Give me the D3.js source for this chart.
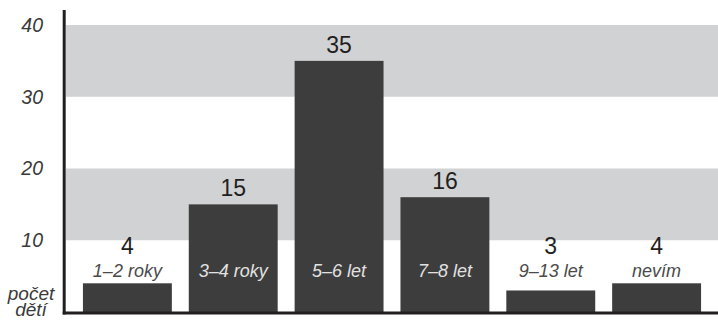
<!DOCTYPE html>
<html>
<head>
<meta charset="utf-8">
<script src="https://cdn.jsdelivr.net/npm/d3@7"></script>
<style>
  html, body { margin: 0; padding: 0; background: #fff; }
  svg { display: block; font-family: "Liberation Sans", Arial, Helvetica, sans-serif; }
</style>
</head>
<body>
<svg id="chart" width="718" height="320"></svg>
<script>
// Age groups and number of children in each
const categories = ["1–2 roky", "3–4 roky", "5–6 let", "7–8 let", "9–13 let", "nevím"];
const counts = [4, 15, 35, 16, 3, 4];
const yTicks = [10, 20, 30, 40];
const yAxisTitle = ["počet", "dětí"];

const W = 718, H = 320;
const svg = d3.select("#chart");

const x = d3.scaleBand()
  .domain(categories)
  .range([66, 718])
  .paddingInner(0.16)
  .paddingOuter(0.16);

const y = d3.scaleLinear()
  .domain([0, 40])
  .range([312, 25]);

// alternating grey bands: 10–20 and 30–40
const bands = [[10, 20], [30, 40]];
svg.append("g").selectAll("rect")
  .data(bands)
  .join("rect")
  .attr("x", 66)
  .attr("width", W - 66)
  .attr("y", d => y(d[1]))
  .attr("height", d => y(d[0]) - y(d[1]))
  .attr("fill", "#d1d2d4");

// bars
svg.append("g").selectAll("rect")
  .data(counts)
  .join("rect")
  .attr("x", (d, i) => x(categories[i]))
  .attr("width", x.bandwidth())
  .attr("y", d => y(d))
  .attr("height", d => y(0) - y(d))
  .attr("fill", "#3d3d3d");

// category labels sit at a fixed height, light on dark bars
const catBaseline = 277;
svg.append("g").selectAll("text")
  .data(categories)
  .join("text")
  .attr("x", d => x(d) + x.bandwidth() / 2)
  .attr("y", catBaseline)
  .attr("text-anchor", "middle")
  .attr("font-size", 18)
  .attr("font-style", "italic")
  .attr("fill", (d, i) => y(counts[i]) < catBaseline - 16 ? "#e2e2e2" : "#4a4a4a")
  .text(d => d);

// value labels above each bar (or above the category label)
svg.append("g").selectAll("text")
  .data(counts)
  .join("text")
  .attr("x", (d, i) => x(categories[i]) + x.bandwidth() / 2)
  .attr("y", d => Math.min(y(d) - 8, 254))
  .attr("text-anchor", "middle")
  .attr("font-size", 23)
  .attr("fill", "#231f20")
  .text(d => d);

// y axis with italic tick labels
const yAxis = d3.axisLeft(y)
  .tickValues(yTicks)
  .tickSize(0)
  .tickPadding(0);
const gy = svg.append("g")
  .attr("transform", "translate(43,0)")
  .call(yAxis);
gy.select(".domain").remove();
gy.selectAll("text")
  .attr("font-family", "\"Liberation Sans\", Arial, Helvetica, sans-serif")
  .attr("font-size", 19.5)
  .attr("font-style", "italic")
  .attr("fill", "#3a3a3a");

// axis lines
svg.append("line")
  .attr("x1", 64.2).attr("x2", 64.2)
  .attr("y1", 10).attr("y2", 314.5)
  .attr("stroke", "#231f20").attr("stroke-width", 3);
svg.append("line")
  .attr("x1", 62.7).attr("x2", W)
  .attr("y1", 313).attr("y2", 313)
  .attr("stroke", "#231f20").attr("stroke-width", 3);

// y axis title in the lower-left corner
svg.append("text")
  .attr("x", 31)
  .attr("text-anchor", "middle")
  .attr("font-size", 19)
  .attr("font-style", "italic")
  .attr("fill", "#3a3a3a")
  .selectAll("tspan")
  .data(yAxisTitle)
  .join("tspan")
  .attr("x", 31)
  .attr("y", (d, i) => 300 + i * 15.5)
  .text(d => d);
</script>
</body>
</html>
